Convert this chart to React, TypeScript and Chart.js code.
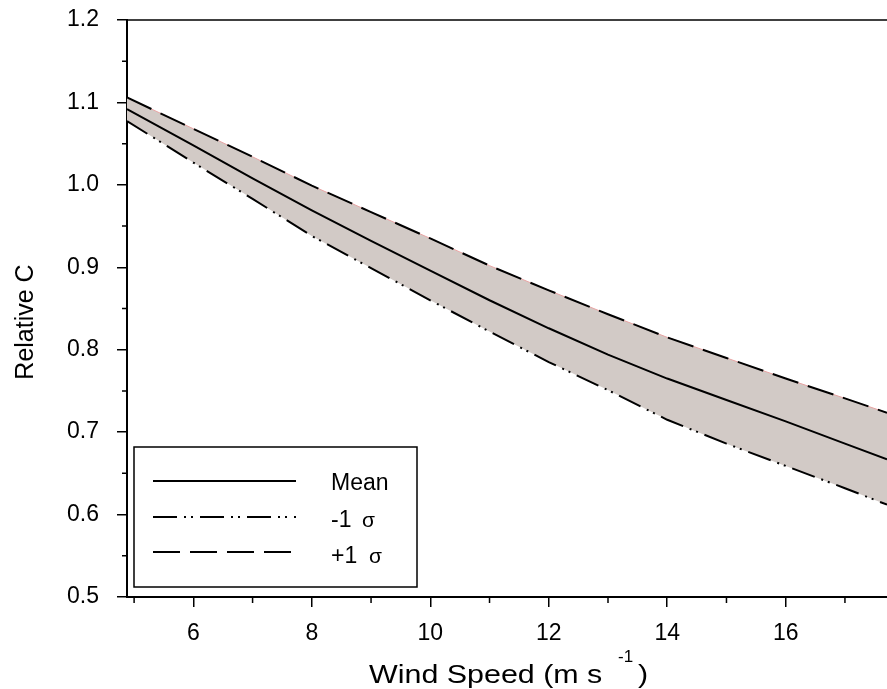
import React, { useEffect, useRef } from "react";
import { Chart, registerables } from "chart.js";

Chart.register(...registerables);

const xValues = [4.88, 6, 7, 8, 9, 10, 11, 12, 13, 14, 15, 16, 17, 17.71];
const meanValues = [1.092, 1.048, 1.008, 0.969, 0.932, 0.896, 0.86, 0.826, 0.794, 0.765, 0.739, 0.713, 0.686, 0.667];
const minusValues = [1.0775, 1.027, 0.983, 0.938, 0.899, 0.86, 0.822, 0.785, 0.751, 0.715, 0.686, 0.659, 0.632, 0.612];
const plusValues = [1.106, 1.068, 1.034, 0.999, 0.967, 0.935, 0.902, 0.872, 0.843, 0.815, 0.79, 0.765, 0.741, 0.7235];

const xMajorTicks = [6, 8, 10, 12, 14, 16];
const xMinorTicks = [5, 7, 9, 11, 13, 15, 17];
const yMajorTicks = [0.5, 0.6, 0.7, 0.8, 0.9, 1.0, 1.1, 1.2];
const yMinorTicks = [0.55, 0.65, 0.75, 0.85, 0.95, 1.05, 1.15];

const legendLabels = ["Mean", "-1", "+1"];
const sigma = "σ";
const xTitle = "Wind Speed (m s";
const xTitleSup = "-1";
const yTitle = "Relative C";

const FONT = '"Liberation Sans", Arial, Helvetica, sans-serif';
const DASH_MINUS = [24, 7, 2, 5, 2, 7];
const DASH_PLUS = [27, 10];
const FILL = "#d2cac6";

const toPts = (ys: number[]) => xValues.map((x, i) => ({ x, y: ys[i] }));

const decorPlugin = {
  id: "decor",
  afterDraw(chart: any) {
    const ctx = chart.ctx;
    const xs = chart.scales.x;
    const ys = chart.scales.y;
    const area = chart.chartArea;
    ctx.save();
    ctx.strokeStyle = "#000";
    ctx.fillStyle = "#000";
    ctx.lineWidth = 1.5;
    // top frame
    ctx.beginPath();
    ctx.moveTo(area.left, area.top);
    ctx.lineTo(area.right, area.top);
    ctx.stroke();
    // minor ticks
    ctx.beginPath();
    for (const v of xMinorTicks) {
      const px = xs.getPixelForValue(v);
      ctx.moveTo(px, area.bottom);
      ctx.lineTo(px, area.bottom + 6);
    }
    for (const v of yMinorTicks) {
      const py = ys.getPixelForValue(v);
      ctx.moveTo(area.left, py);
      ctx.lineTo(area.left - 5, py);
    }
    ctx.stroke();

    // legend box
    const bx = 134, by = 447, bw = 283, bh = 140;
    ctx.fillStyle = "#fff";
    ctx.fillRect(bx, by, bw, bh);
    ctx.lineWidth = 1.5;
    ctx.strokeRect(bx, by, bw, bh);
    const lx0 = 153, lx1 = 296;
    const rows = [481, 517, 552];
    const dashes = [[], DASH_MINUS, DASH_PLUS];
    ctx.lineWidth = 2;
    rows.forEach((ry, i) => {
      ctx.setLineDash(dashes[i]);
      ctx.beginPath();
      ctx.moveTo(lx0, ry);
      ctx.lineTo(lx1, ry);
      ctx.stroke();
    });
    ctx.setLineDash([]);
    ctx.fillStyle = "#000";
    ctx.textAlign = "left";
    ctx.textBaseline = "alphabetic";
    ctx.font = `23px ${FONT}`;
    ctx.fillText(legendLabels[0], 331, 490);
    ctx.fillText(legendLabels[1], 331, 527);
    ctx.fillText(legendLabels[2], 331, 563);
    ctx.font = `21px ${FONT}`;
    ctx.fillText(sigma, 362, 527);
    ctx.fillText(sigma, 369, 563);

    // x title (slightly wide lettering as in the reference)
    ctx.save();
    ctx.translate(369, 683);
    ctx.scale(1.17, 1);
    ctx.font = `26px ${FONT}`;
    ctx.fillText(xTitle, 0, 0);
    ctx.restore();
    ctx.font = `17px ${FONT}`;
    ctx.fillText(xTitleSup, 618, 662);
    ctx.save();
    ctx.translate(638, 683);
    ctx.scale(1.17, 1);
    ctx.font = `26px ${FONT}`;
    ctx.fillText(")", 0, 0);
    ctx.restore();

    // y title
    ctx.save();
    ctx.translate(33, 322);
    ctx.rotate(-Math.PI / 2);
    ctx.textAlign = "center";
    ctx.font = `25px ${FONT}`;
    ctx.fillText(yTitle, 0, 0);
    ctx.restore();

    ctx.restore();
  },
};

export default function App() {
  const ref = useRef<HTMLCanvasElement | null>(null);
  useEffect(() => {
    if (!ref.current) return;
    const chart = new Chart(ref.current, {
      type: "line",
      data: {
        datasets: [
          {
            label: "Mean",
            data: toPts(meanValues),
            borderColor: "#000",
            borderWidth: 2,
            pointRadius: 0,
            fill: false,
            tension: 0,
          },
          {
            label: "-1 σ",
            data: toPts(minusValues),
            borderColor: "#000",
            borderWidth: 2,
            borderDash: DASH_MINUS,
            pointRadius: 0,
            fill: false,
            tension: 0,
          },
          {
            label: "+1 σ",
            data: toPts(plusValues),
            borderColor: "#000",
            borderWidth: 2,
            borderDash: DASH_PLUS,
            pointRadius: 0,
            backgroundColor: FILL,
            fill: 1,
            tension: 0,
          },
          {
            label: "+1 σ edge",
            data: toPts(plusValues),
            borderColor: "#e8a4a4",
            borderWidth: 1,
            pointRadius: 0,
            fill: false,
            tension: 0,
          },
        ],
      },
      options: {
        animation: false,
        responsive: false,
        maintainAspectRatio: false,
        layout: { padding: { top: 20, right: 0, left: 0, bottom: 0 } },
        plugins: {
          legend: { display: false },
          tooltip: { enabled: false },
          filler: { drawTime: "beforeDatasetsDraw" },
        },
        scales: {
          x: {
            type: "linear",
            min: xValues[0],
            max: xValues[xValues.length - 1],
            afterBuildTicks: (s: any) => {
              s.ticks = xMajorTicks.map((v) => ({ value: v }));
            },
            afterFit: (s: any) => {
              s.height = 92;
              s.paddingLeft = 0;
              s.paddingRight = 0;
            },
            grid: {
              drawOnChartArea: false,
              drawTicks: true,
              tickLength: 10,
              color: "#000",
              lineWidth: 1.5,
            },
            border: { display: true, color: "#000", width: 2 },
            ticks: {
              color: "#000",
              font: { family: FONT, size: 23 },
              padding: 13,
              maxRotation: 0,
              autoSkip: false,
              callback: (v: any) => String(v),
            },
          },
          y: {
            type: "linear",
            min: 0.5,
            max: 1.2,
            afterBuildTicks: (s: any) => {
              s.ticks = yMajorTicks.map((v) => ({ value: v }));
            },
            afterFit: (s: any) => {
              s.width = 127;
              s.paddingTop = 0;
              s.paddingBottom = 0;
            },
            grid: {
              drawOnChartArea: false,
              drawTicks: true,
              tickLength: 10,
              color: "#000",
              lineWidth: 1.5,
            },
            border: { display: true, color: "#000", width: 2 },
            ticks: {
              color: "#000",
              font: { family: FONT, size: 23 },
              padding: 18,
              autoSkip: false,
              callback: (v: any) => Number(v).toFixed(1),
            },
          },
        },
      },
      plugins: [decorPlugin],
    });
    return () => chart.destroy();
  }, []);
  return (
    <div style={{ position: "fixed", left: 0, top: 0, width: 887, height: 689, background: "#fff" }}>
      <canvas ref={ref} width={887} height={689} style={{ display: "block" }} />
    </div>
  );
}
